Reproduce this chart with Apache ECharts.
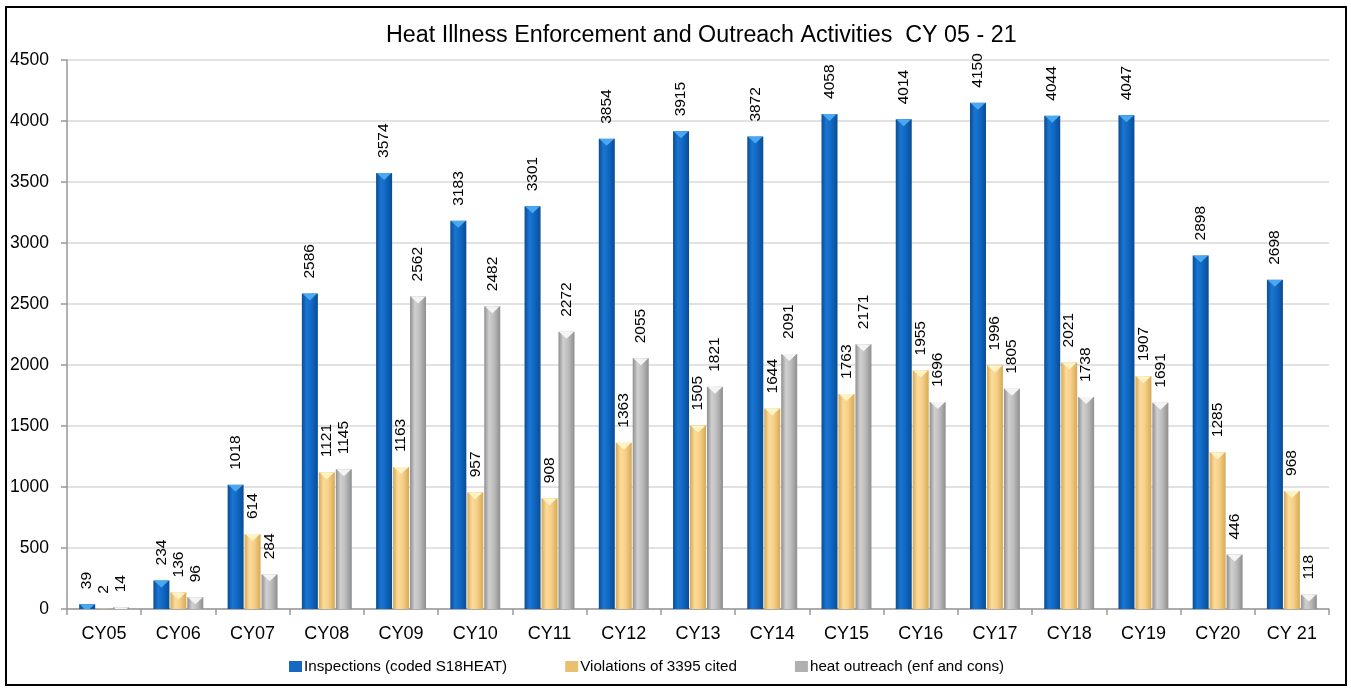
<!DOCTYPE html>
<html>
<head>
<meta charset="utf-8">
<script src="https://cdn.jsdelivr.net/npm/echarts@6/dist/echarts.min.js"></script>
<style>
html,body{margin:0;padding:0;background:#fff;}
#frame{position:absolute;left:5px;top:6px;width:1338px;height:676px;border:2px solid #000;}
#chart{position:absolute;left:0;top:0;width:1351px;height:689px;}
</style>
</head>
<body>
<div id="frame"></div>
<div id="chart"></div>
<script>
const categories = ['CY05','CY06','CY07','CY08','CY09','CY10','CY11','CY12','CY13','CY14','CY15','CY16','CY17','CY18','CY19','CY20','CY 21'];
const inspections = [39,234,1018,2586,3574,3183,3301,3854,3915,3872,4058,4014,4150,4044,4047,2898,2698];
const violations = [2,136,614,1121,1163,957,908,1363,1505,1644,1763,1955,1996,2021,1907,1285,968];
const outreach = [14,96,284,1145,2562,2482,2272,2055,1821,2091,2171,1696,1805,1738,1691,446,118];
const seriesNames = ['Inspections (coded S18HEAT)','Violations of 3395 cited','heat outreach (enf and cons)'];
const yTicks = [0,500,1000,1500,2000,2500,3000,3500,4000,4500];

function grad(edge, mid, light){
  return new echarts.graphic.LinearGradient(0,0,1,0,[
    {offset:0,color:edge},{offset:0.3,color:light},{offset:0.6,color:mid},{offset:1,color:edge}
  ]);
}
const colors = [
  grad('#0a4c94','#1068c4','#1a76d2'),
  grad('#d6a954','#f7d088','#fbdb9c'),
  grad('#8e8e8e','#bdbdbd','#d0d0d0')
];
const capColors = ['#4aa8f0','#fff2c4','#f4f4f4'];
const legendColors = ['#1668c0','#e8c070','#b0b0b0'];
const offsets = [-17, 0, 17];
const FONT = 'Liberation Sans, Arial, sans-serif';

const chart = echarts.init(document.getElementById('chart'));
function mk(name, data, i){
  return {
    name: name, type:'bar', data: data,
    barWidth: 16, barGap: '6%',
    itemStyle:{color: colors[i]},
    label:{show:true, position:'top', rotate:90, align:'left', verticalAlign:'middle', distance:15,
      fontFamily:FONT, fontSize:15.5, color:'#000'}
  };
}
function cap(data, i){
  return {
    name: 'cap'+i, type:'pictorialBar', data: data,
    symbol:'triangle', symbolRotate:180, symbolSize:[15,7], symbolPosition:'end',
    symbolOffset:[offsets[i], 0], symbolClip:true, z:5, silent:true,
    itemStyle:{color: capColors[i]}
  };
}
chart.setOption({
  animation:false,
  title:{text:'Heat Illness Enforcement and Outreach Activities  CY 05 - 21', left:381, top:19,
    textStyle:{fontFamily:FONT, fontSize:23.3, fontWeight:'normal', color:'#000'}},
  grid:{left:67, right:22, top:60, bottom:80, containLabel:false},
  legend:{bottom:10, left:284, itemGap:58, itemWidth:13, itemHeight:11, icon:'rect',
    textStyle:{fontFamily:FONT, fontSize:15.2, color:'#000', padding:[0,0,0,-3]},
    data: seriesNames.map((n,i)=>({name:n, itemStyle:{color:legendColors[i]}}))},
  xAxis:{type:'category', data:categories,
    axisLine:{lineStyle:{color:'#999', width:1.5}},
    axisTick:{show:true, length:6, lineStyle:{color:'#999', width:1.5}},
    axisLabel:{fontFamily:FONT, fontSize:18, color:'#000', margin:16}},
  yAxis:{type:'value', min:yTicks[0], max:yTicks[yTicks.length-1], interval:yTicks[1]-yTicks[0],
    axisLine:{show:true, lineStyle:{color:'#999', width:1.5}},
    axisTick:{show:true, length:6, lineStyle:{color:'#999', width:1.5}},
    splitLine:{lineStyle:{color:'#d9d9d9', width:1.5}},
    axisLabel:{fontFamily:FONT, fontSize:17.5, color:'#000', margin:18, formatter: v => String(v)}},
  series:[mk(seriesNames[0],inspections,0), mk(seriesNames[1],violations,1), mk(seriesNames[2],outreach,2),
    cap(inspections,0), cap(violations,1), cap(outreach,2)]
});
</script>
</body>
</html>
